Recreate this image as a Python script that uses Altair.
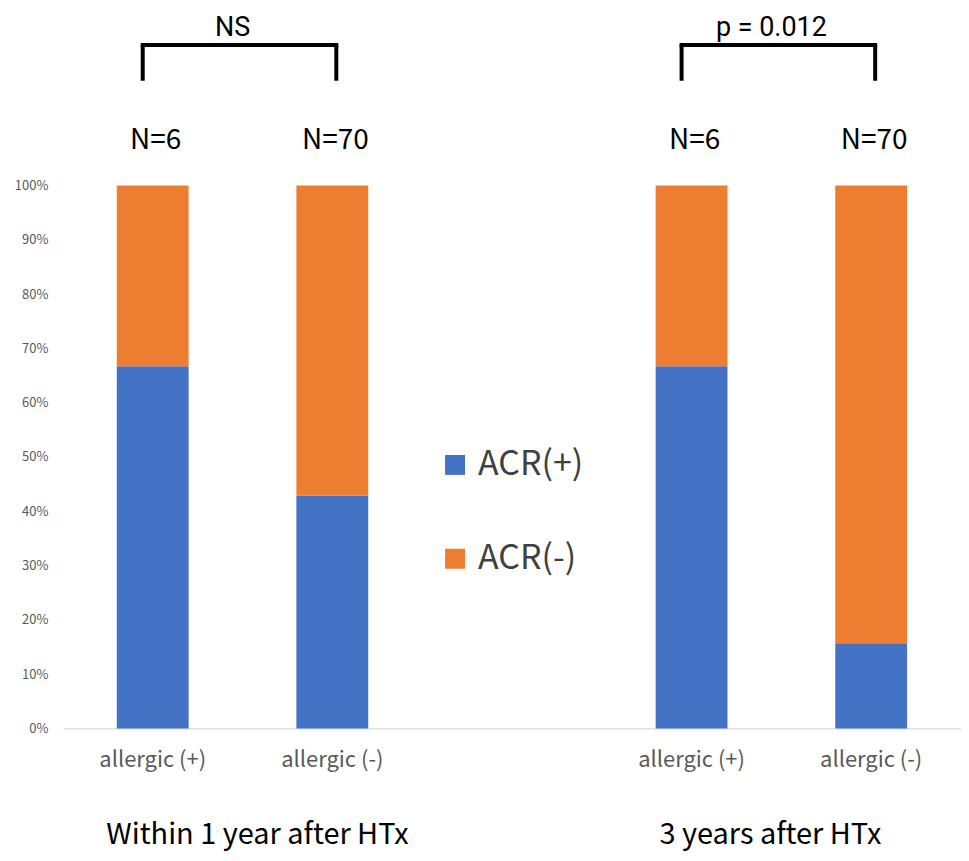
import altair as alt
import pandas as pd

# ---- data ----
cat_keys = ["g1_pos", "g1_neg", "gap", "g2_pos", "g2_neg"]
cat_labels = ["allergic (+)", "allergic (-)", "", "allergic (+)", "allergic (-)"]
bar_keys = ["g1_pos", "g1_neg", "g2_pos", "g2_neg"]
acr_pos = [0.667, 0.429, 0.667, 0.157]
acr_neg = [0.333, 0.571, 0.333, 0.843]
n_labels = ["N=6", "N=70", "N=6", "N=70"]
series = ["ACR(+)", "ACR(-)"]
colors = ["#4472C4", "#ED7D31"]
group_names = ["Within 1 year after HTx", "3 years after HTx"]
bracket_start = ["g1_pos", "g2_pos"]
bracket_end = ["g1_neg", "g2_neg"]
bracket_text = ["NS", "p = 0.012"]

FONT = "Noto Sans CJK JP"

rows = []
for k, p, n in zip(bar_keys, acr_pos, acr_neg):
    rows.append({"cat": k, "series": "ACR(+)", "value": p, "ord": 0})
    rows.append({"cat": k, "series": "ACR(-)", "value": n, "ord": 1})
bars_df = pd.DataFrame(rows)

nlab_df = pd.DataFrame({"cat": bar_keys, "label": n_labels, "y": [1.068] * 4})
br_df = pd.DataFrame({"start": bracket_start, "end": bracket_end, "label": bracket_text,
                      "top": [1.259, 1.259], "bottom": [1.193, 1.193], "ty": [1.2757, 1.2757]})
g1_df = pd.DataFrame({"cat": [bracket_start[0]], "label": [group_names[0]], "y": [-0.213]})
g2_df = pd.DataFrame({"cat": [bracket_start[1]], "label": [group_names[1]], "y": [-0.213]})

label_expr = "{" + ",".join(f"'{k}':'{l}'" for k, l in zip(cat_keys, cat_labels)) + "}[datum.value]"

xscale = alt.Scale(domain=cat_keys, paddingInner=0.6, paddingOuter=0.3)
yscale = alt.Scale(domain=[0, 1], nice=False)

x_enc = alt.X("cat:N", scale=xscale, sort=cat_keys,
              axis=alt.Axis(title=None, labelExpr=label_expr, labelAngle=0, ticks=False,
                            labelFontSize=22, labelColor="#595959", labelPadding=38,
                            labelBaseline="alphabetic",
                            domainColor="#D9D9D9", domainWidth=1.5, labelFont=FONT))

bars = alt.Chart(bars_df).mark_bar().encode(
    x=x_enc,
    y=alt.Y("value:Q", stack="zero", scale=yscale,
            axis=alt.Axis(title=None, format="%", values=[i / 10 for i in range(11)],
                          ticks=False, domain=False, grid=False, labelFontSize=13,
                          labelColor="#595959", labelPadding=15, labelFont=FONT)),
    color=alt.Color("series:N", scale=alt.Scale(domain=series, range=colors),
                    legend=alt.Legend(title=None, orient="none", legendX=376, legendY=263,
                                      symbolType="square", symbolSize=400, labelFontSize=34,
                                      labelColor="#404040", rowPadding=60, labelFont=FONT,
                                      symbolStrokeWidth=0, padding=0, labelOffset=6)),
    order=alt.Order("ord:Q"),
)

nlabels = alt.Chart(nlab_df).mark_text(fontSize=28, font=FONT, color="#000000", dx=3,
                                       baseline="alphabetic").encode(
    x=alt.X("cat:N", scale=xscale, sort=cat_keys), y=alt.Y("y:Q", scale=yscale), text="label:N")

hline = alt.Chart(br_df).mark_rule(color="black", strokeWidth=4, xOffset=-10, x2Offset=4,
                                   strokeCap="square").encode(
    x=alt.X("start:N", scale=xscale, sort=cat_keys), x2="end:N",
    y=alt.Y("top:Q", scale=yscale))
vleft = alt.Chart(br_df).mark_rule(color="black", strokeWidth=4, xOffset=-10).encode(
    x=alt.X("start:N", scale=xscale, sort=cat_keys),
    y=alt.Y("bottom:Q", scale=yscale), y2="top:Q")
vright = alt.Chart(br_df).mark_rule(color="black", strokeWidth=4, xOffset=4).encode(
    x=alt.X("end:N", scale=xscale, sort=cat_keys),
    y=alt.Y("bottom:Q", scale=yscale), y2="top:Q")
btext = alt.Chart(br_df).mark_text(fontSize=27, font="Roboto", color="#000000", dx=80,
                                   baseline="alphabetic").encode(
    x=alt.X("start:N", scale=xscale, sort=cat_keys), y=alt.Y("ty:Q", scale=yscale), text="label:N")

g1 = alt.Chart(g1_df).mark_text(fontSize=29, font=FONT, color="#000000", dx=105,
                                baseline="alphabetic").encode(
    x=alt.X("cat:N", scale=xscale, sort=cat_keys), y=alt.Y("y:Q", scale=yscale), text="label:N")
g2 = alt.Chart(g2_df).mark_text(fontSize=29, font=FONT, color="#000000", dx=79,
                                baseline="alphabetic").encode(
    x=alt.X("cat:N", scale=xscale, sort=cat_keys), y=alt.Y("y:Q", scale=yscale), text="label:N")

chart = alt.layer(bars, nlabels, hline, vleft, vright, btext, g1, g2).properties(
    width=900, height=544,
    background="white",
    autosize=alt.AutoSizeParams(type="none"),
    padding={"left": 55, "top": 177, "right": 0, "bottom": 126},
).configure_view(strokeWidth=0, stroke=None)

chart.save("out.html", embed_options={"renderer": "svg", "actions": False})
